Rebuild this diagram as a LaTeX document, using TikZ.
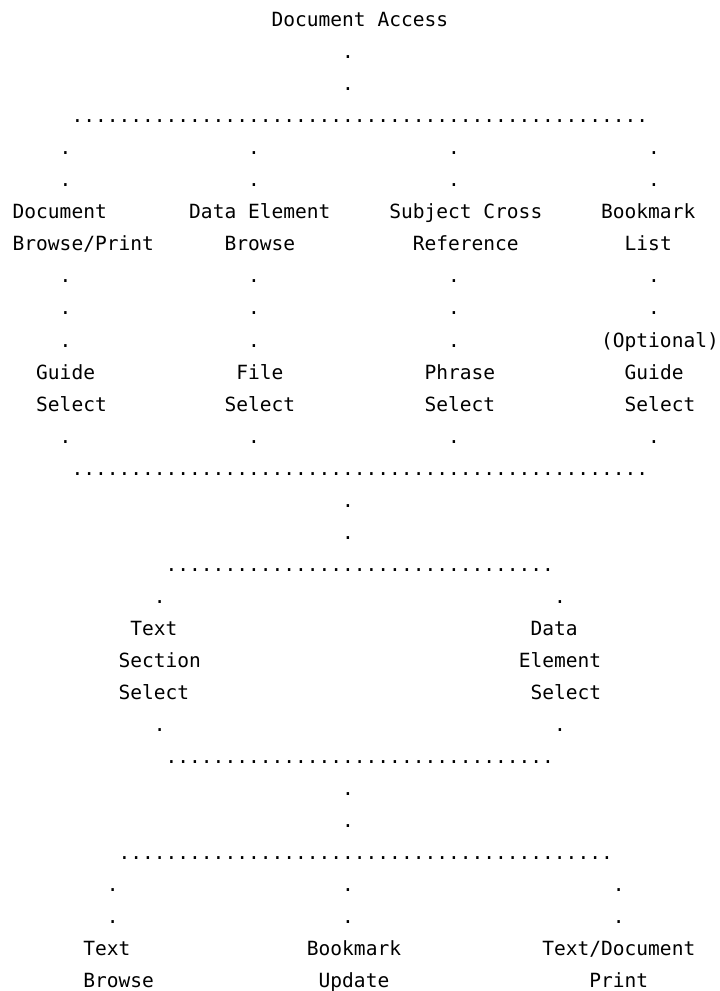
\documentclass[tikz,border=0pt]{standalone}
\usepackage{fontspec}
\newfontfamily\asciimono{DejaVu Sans Mono}
\newcommand\tendots{..........}
\tikzset{
  t/.style={anchor=base west, inner sep=0pt, outer sep=0pt,
            font=\asciimono\fontsize{14.66pt}{18pt}\selectfont, text=black}
}
\begin{document}
\begin{tikzpicture}[x=8.8275pt, y=-24.0375pt]
\useasboundingbox (-0.0765,-0.827) rectangle (61.096,30.094);
\fill[white] (-0.0765,-0.827) rectangle (61.096,30.094);
% level 0
\node[t] (root) at (23,0) {Document Access};
\node[t] (r1) at (29,1) {.};
\node[t] (r2) at (29,2) {.};
\node[t] (bar1) at (6,3) {\tendots\tendots\tendots\tendots.........};
% level 1 branches
\foreach \c/\n in {5/a,21/b,38/c,55/d}{
  \node[t] (\n4) at (\c,4) {.};
  \node[t] (\n5) at (\c,5) {.};
}
\node[t] (docA) at (1,6) {Document};
\node[t] (docB) at (1,7) {Browse/Print};
\node[t] (datA) at (16,6) {Data Element};
\node[t] (datB) at (19,7) {Browse};
\node[t] (subA) at (33,6) {Subject Cross};
\node[t] (subB) at (35,7) {Reference};
\node[t] (bkA) at (51,6) {Bookmark};
\node[t] (bkB) at (53,7) {List};
\foreach \c/\n in {5/a,21/b,38/c,55/d}{
  \node[t] (\n8) at (\c,8) {.};
  \node[t] (\n9) at (\c,9) {.};
}
\foreach \c/\n in {5/a,21/b,38/c}{
  \node[t] (\n10) at (\c,10) {.};
}
\node[t] (opt) at (51,10) {(Optional)};
\node[t] (g1a) at (3,11) {Guide};
\node[t] (g1b) at (3,12) {Select};
\node[t] (fa) at (20,11) {File};
\node[t] (fb) at (19,12) {Select};
\node[t] (pa) at (36,11) {Phrase};
\node[t] (pb) at (36,12) {Select};
\node[t] (g2a) at (53,11) {Guide};
\node[t] (g2b) at (53,12) {Select};
\foreach \c/\n in {5/a,21/b,38/c,55/d}{
  \node[t] (\n13) at (\c,13) {.};
}
\node[t] (bar2) at (6,14) {\tendots\tendots\tendots\tendots.........};
\node[t] (r15) at (29,15) {.};
\node[t] (r16) at (29,16) {.};
\node[t] (bar3) at (14,17) {\tendots\tendots\tendots...};
% level 2
\node[t] (s18) at (13,18) {.};
\node[t] (e18) at (47,18) {.};
\node[t] (tsa) at (11,19) {Text};
\node[t] (tsb) at (10,20) {Section};
\node[t] (tsc) at (10,21) {Select};
\node[t] (dea) at (45,19) {Data};
\node[t] (deb) at (44,20) {Element};
\node[t] (dec) at (45,21) {Select};
\node[t] (s22) at (13,22) {.};
\node[t] (e22) at (47,22) {.};
\node[t] (bar4) at (14,23) {\tendots\tendots\tendots...};
\node[t] (r24) at (29,24) {.};
\node[t] (r25) at (29,25) {.};
\node[t] (bar5) at (10,26) {\tendots\tendots\tendots\tendots..};
% level 3
\foreach \c/\n in {9/x,29/y,52/z}{
  \node[t] (\n27) at (\c,27) {.};
  \node[t] (\n28) at (\c,28) {.};
}
\node[t] (tba) at (7,29) {Text};
\node[t] (tbb) at (7,30) {Browse};
\node[t] (bua) at (26,29) {Bookmark};
\node[t] (bub) at (27,30) {Update};
\node[t] (tpa) at (46,29) {Text/Document};
\node[t] (tpb) at (50,30) {Print};
\end{tikzpicture}
\end{document}
